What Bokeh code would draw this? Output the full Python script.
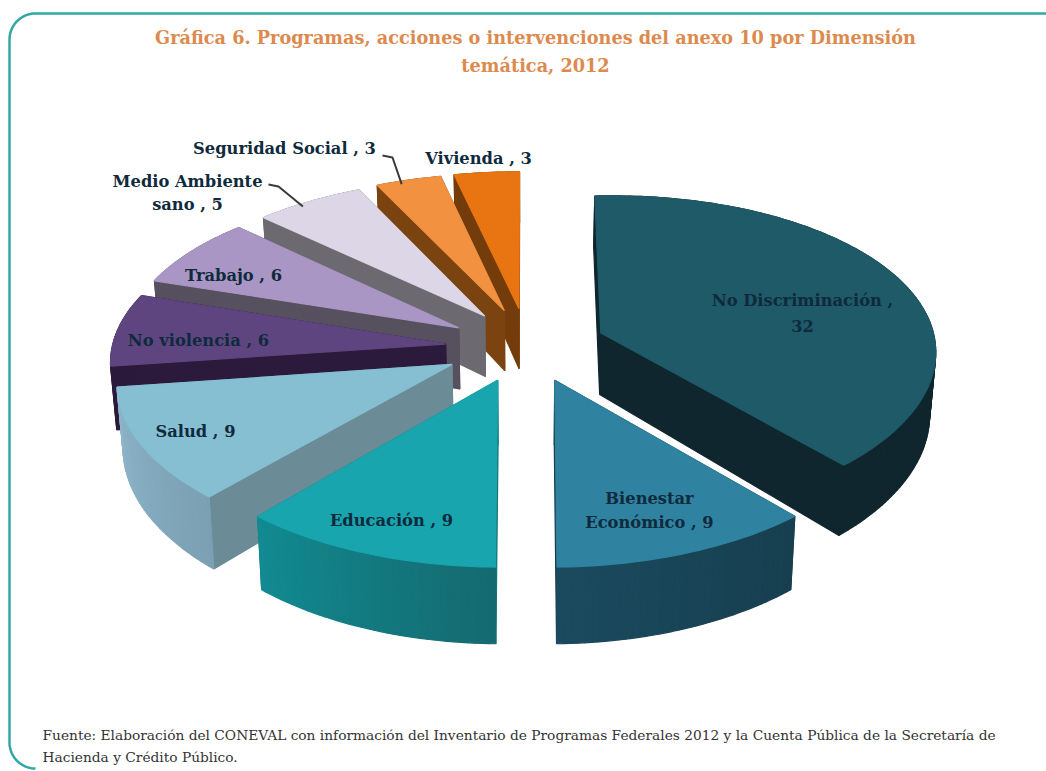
import numpy as np
from bokeh.plotting import figure
from bokeh.core.properties import value
from bokeh.embed import file_html
from bokeh.resources import INLINE

# ---- data ----
categories = ["No Discriminación", "Bienestar Económico", "Educación", "Salud", "No violencia",
              "Trabajo", "Medio Ambiente sano", "Seguridad Social", "Vivienda"]
values = [32, 9, 9, 9, 6, 6, 5, 3, 3]
title_lines = ["Gráfica 6. Programas, acciones o intervenciones del anexo 10 por Dimensión", "temática, 2012"]
source_lines = ["Fuente: Elaboración del CONEVAL con información del Inventario de Programas Federales 2012 y  la Cuenta Pública de la Secretaría de",
                "Hacienda y Crédito Público."]

# ---- style ----
top_colors = ["#1f5a68", "#2f83a0", "#18a5ae", "#86bfd2", "#5f4580", "#a996c4", "#dcd6e6", "#f2913f", "#e87511"]
wall_colors = ["#10262e", "#173f50", "#14767c", "#6b8b96", "#2c1a3c", "#57505f", "#6c6a70", "#7a4310", "#733c0a"]
outer_a = ["#10262e", "#173f50", "#146a70", "#7ba0b4", "#2c1a3c", "#57505f", "#6c6a70", "#7a4310", "#733c0a"]
outer_b = ["#10262e", "#1b4a5e", "#128b92", "#8fb6ca", "#2c1a3c", "#57505f", "#6c6a70", "#7a4310", "#733c0a"]
explode = [1.0, 1.08, 1.03, 1.07, 1.0, 0.95, 0.84, 0.78, 0.71]
CX, CY, EX, EY = 525, 345, 80, 37      # pie centre and explosion scale, px
A, B, K = 330, 158, 0.154              # ellipse half axes and perspective
TAPER, SHRINK, SKEW = 0.08, 0.985, 0.025


def hex_mix(c1, c2, t):
    a = [int(c1[i:i + 2], 16) for i in (1, 3, 5)]
    b = [int(c2[i:i + 2], 16) for i in (1, 3, 5)]
    return "#%02x%02x%02x" % tuple(int(round(u + (v - u) * t)) for u, v in zip(a, b))


def depth(y):
    return 60 + (y - 310) * 0.065


total = sum(values)
edges = np.cumsum([0] + values) / total * 2 * np.pi
mids = (edges[:-1] + edges[1:]) / 2
tips_x = CX + EX * np.array(explode) * np.sin(mids)
tips_y = CY - EY * np.cos(mids)


def top_pt(i, th):
    X, Y = np.sin(th), np.cos(th)
    den = 1 + K * Y
    dx = A * X / den
    x = tips_x[i] + dx - (tips_x[i] - CX) * TAPER * Y
    y = tips_y[i] - B * Y / den - SKEW * dx * (tips_x[i] - CX) / 75
    return x, y


def low_pt(x, y):
    return CX + (x - CX) * SHRINK, y + depth(y)


xs, ys, fills = [], [], []
def add(px, py, col):
    xs.append(list(px)); ys.append(list(py)); fills.append(col)


for i in np.argsort(tips_y):
    tx, ty = tips_x[i], tips_y[i]
    ltx, lty = low_pt(tx, ty)
    # radial walls
    for th in (edges[i], edges[i + 1]):
        x, y = top_pt(i, th)
        lx, ly = low_pt(x, y)
        add([tx, x, lx, ltx], [ty, y, ly, lty], wall_colors[i])
    # curved outer wall, with a gradient made of thin strips
    ths = np.linspace(edges[i], edges[i + 1], max(8, int(np.degrees(edges[i + 1] - edges[i]))))
    for j in range(len(ths) - 1):
        x0, y0 = top_pt(i, ths[j]); x1, y1 = top_pt(i, ths[j + 1])
        l0 = low_pt(x0, y0); l1 = low_pt(x1, y1)
        add([x0, x1, l1[0], l0[0]], [y0, y1, l1[1], l0[1]],
            hex_mix(outer_a[i], outer_b[i], j / (len(ths) - 1)))
    # top face
    pts = [top_pt(i, th) for th in ths]
    add([tx] + [p[0] for p in pts], [ty] + [p[1] for p in pts], top_colors[i])

p = figure(width=1046, height=771, x_range=(0, 1046), y_range=(771, 0),
           output_backend="svg", toolbar_location=None, min_border=0)
p.axis.visible = False
p.grid.visible = False
p.outline_line_color = None
p.background_fill_color = "white"

# panel border
R = 26
t1 = np.linspace(1.5 * np.pi, np.pi, 20)
t2 = np.linspace(np.pi, 0.5 * np.pi, 20)
bx = [1046] + list(9 + R + R * np.cos(t1)) + list(9 + R + R * np.cos(t2))
by = [13] + list(13 + R + R * np.sin(t1)) + list(768 - R + R * np.sin(t2))
p.line(bx, by, line_color="#2fa8a6", line_width=2.5)

p.patches(xs, ys, fill_color=fills, line_color=fills, line_width=1.2)

# leader lines (from the end of the label to the rim of the slice)
for i, (lx, ly) in ((7, (382, 155)), (6, (268, 184))):
    ex, ey = top_pt(i, mids[i] - 0.025)
    ey += 3
    p.line([lx, lx + 10, ex], [ly, ly + 2, ey], line_color="#3a3a3a", line_width=2)

NAVY = "#0e2a3c"
label_text = ["No Discriminación ,", "32", "Bienestar", "Económico , 9", "Educación , 9", "Salud , 9",
              "No violencia , 6", "Trabajo , 6", "Medio Ambiente", "sano , 5", "Seguridad Social , 3", "Vivienda , 3"]
label_x = [802, 802, 649, 649, 391, 195, 198, 233, 187, 187, 284, 478]
label_y = [300, 325, 498, 522, 520, 431, 340, 275, 181, 204, 148, 158]
p.text(x=label_x, y=label_y, text=label_text, text_font=value("DejaVu Serif"), text_font_style="bold",
       text_font_size="16.3px", text_color=NAVY, text_align="center", text_baseline="middle")

p.text(x=[535, 535], y=[37, 65], text=title_lines, text_font=value("DejaVu Serif"), text_font_style="bold",
       text_font_size="17.7px", text_color="#dc8a4e", text_align="center", text_baseline="middle")
p.text(x=[42, 42], y=[734, 756], text=source_lines, text_font=value("DejaVu Serif"),
       text_font_size="13.75px", text_color="#333333", text_align="left", text_baseline="middle")

open("out.html", "w").write(file_html(p, INLINE))
